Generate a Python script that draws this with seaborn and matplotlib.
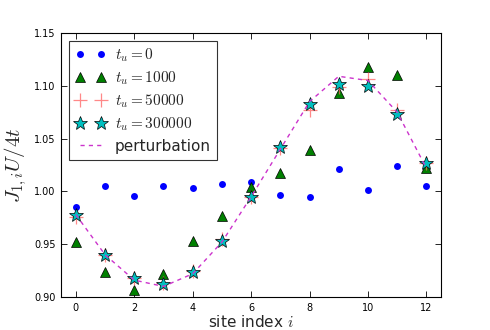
import numpy as np
import pandas as pd
import matplotlib
matplotlib.use("Agg")
import matplotlib.pyplot as plt
import seaborn as sns

sites = list(range(13))
j_t0 = [0.985, 1.005, 0.996, 1.005, 1.003, 1.007, 1.009, 0.997, 0.995, 1.021, 1.001, 1.024, 1.005]
j_t1000 = [0.952, 0.924, 0.907, 0.922, 0.953, 0.977, 1.004, 1.017, 1.039, 1.093, 1.118, 1.110, 1.022]
j_t50000 = [0.976, 0.940, 0.918, 0.913, 0.925, 0.955, 0.995, 1.041, 1.077, 1.099, 1.106, 1.077, 1.027]
j_t300000 = [0.978, 0.940, 0.918, 0.912, 0.924, 0.953, 0.995, 1.042, 1.083, 1.102, 1.100, 1.073, 1.027]
j_pert = [0.978, 0.940, 0.916, 0.910, 0.922, 0.952, 0.995, 1.040, 1.085, 1.109, 1.105, 1.075, 1.022]
labels = [r"$t_u=0$", r"$t_u=1000$", r"$t_u=50000$", r"$t_u=300000$", "perturbation"]
yticks = [0.90, 0.95, 1.00, 1.05, 1.10, 1.15]
xticks = [0, 2, 4, 6, 8, 10, 12]

sns.set_theme(style="ticks")
plt.rcParams.update({
    "font.family": ["DejaVu Sans"],
    "xtick.direction": "in", "ytick.direction": "in",
    "xtick.top": True, "ytick.right": True,
    "axes.edgecolor": "black", "axes.linewidth": 0.8,
    "mathtext.fontset": "cm",
})

fig = plt.figure(figsize=(4.9, 3.3), dpi=100)
ax = fig.add_axes([0.125, 0.1, 0.775, 0.8])

sns.lineplot(x=sites, y=j_t0, ax=ax, color="#0000ff", marker="o", linestyle="",
             markersize=5, markeredgecolor="#0000ff", markeredgewidth=0, label=labels[0])
sns.lineplot(x=sites, y=j_t1000, ax=ax, color="#008000", marker="^", linestyle="",
             markersize=7, markeredgecolor="black", markeredgewidth=0.5, label=labels[1])
sns.lineplot(x=sites, y=j_t50000, ax=ax, color="#ff6060", marker="+", linestyle="",
             markersize=10, markeredgecolor="#ff6060", markeredgewidth=0.9, alpha=0.75,
             label=labels[2])
sns.lineplot(x=sites, y=j_t300000, ax=ax, color="#00bfbf", marker="*", linestyle="",
             markersize=10, markeredgecolor="black", markeredgewidth=0.5, label=labels[3])
sns.lineplot(x=sites, y=j_pert, ax=ax, color="#cc33cc", linestyle=(0, (3, 3)), linewidth=1.0,
             label=labels[4])

ax.set_xlim(-0.5, 12.5)
ax.set_ylim(0.90, 1.15)
ax.set_xticks(xticks)
ax.set_yticks(yticks)
ax.set_yticklabels([f"{v:.2f}" for v in yticks])
ax.tick_params(labelsize=7, length=4, width=0.6, colors="black", pad=4)
ax.set_xlabel(r"site index $i$", fontsize=11, labelpad=1)
ax.set_ylabel(r"$J_{1,i}U/4t$", fontsize=15)

leg = ax.legend(loc="upper left", numpoints=2, fontsize=11, frameon=True,
                fancybox=False, edgecolor="black", borderaxespad=0.5,
                handlelength=2.0, handletextpad=0.6, labelspacing=0.35,
                borderpad=0.4)
leg.get_frame().set_linewidth(0.8)

fig.savefig("out.png", dpi=100)
